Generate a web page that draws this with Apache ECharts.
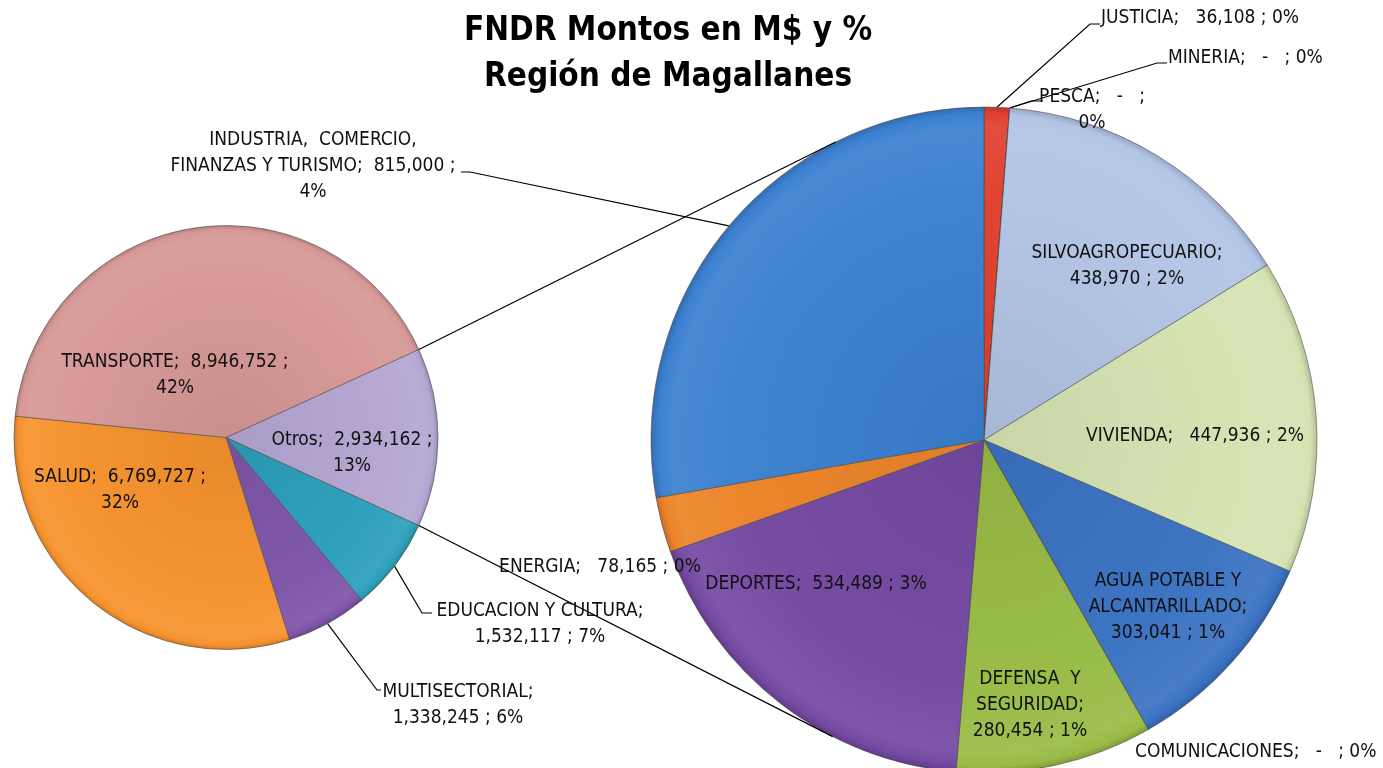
<!DOCTYPE html>
<html><head><meta charset="utf-8">
<script src="https://cdn.jsdelivr.net/npm/echarts@6/dist/echarts.min.js"></script>
<style>html,body{margin:0;padding:0;background:#fff}#c{width:1383px;height:768px}</style>
</head><body><div id="c"></div>
<script>
// ---- data (drawing order, clockwise) ----
const mainCategories = ['Otros', 'EDUCACION Y CULTURA', 'MULTISECTORIAL', 'SALUD', 'TRANSPORTE'];
const mainValues = [2934162, 1532117, 1338245, 6769727, 8946752];
const mainPercents = [13, 7, 6, 32, 42];
const otrosCategories = ['JUSTICIA', 'MINERIA', 'PESCA', 'SILVOAGROPECUARIO', 'VIVIENDA',
  'AGUA POTABLE Y ALCANTARILLADO', 'COMUNICACIONES', 'DEFENSA Y SEGURIDAD', 'DEPORTES',
  'ENERGIA', 'INDUSTRIA, COMERCIO, FINANZAS Y TURISMO'];
const otrosValues = [36108, 0, 0, 438970, 447936, 303041, 0, 280454, 534489, 78165, 815000];
const otrosPercents = [0, 0, 0, 2, 2, 1, 0, 1, 3, 0, 4];
const titleLines = ['FNDR Montos en M$ y %', 'Región de Magallanes'];

// ---- style / layout ----
const FONT = '"Liberation Sans Narrow","DejaVu Sans Condensed","Arial Narrow",sans-serif';
const L = { cx: 226, cy: 437.5, r: 212 };
const R = { cx: 984, cy: 440, r: 333 };
const colors = {
  'Otros': '#b4a6d2', 'EDUCACION Y CULTURA': '#2c9fba', 'MULTISECTORIAL': '#7d55a8',
  'SALUD': '#f6922d', 'TRANSPORTE': '#d69896',
  'JUSTICIA': '#e0402f', 'MINERIA': '#4f81bd', 'PESCA': '#c0504d', 'SILVOAGROPECUARIO': '#b2c4e4',
  'VIVIENDA': '#d5e3b2', 'AGUA POTABLE Y ALCANTARILLADO': '#3a72c2', 'COMUNICACIONES': '#4bacc6',
  'DEFENSA Y SEGURIDAD': '#98bb45', 'DEPORTES': '#7449a2', 'ENERGIA': '#ec8428',
  'INDUSTRIA, COMERCIO, FINANZAS Y TURISMO': '#3b80d0'
};
const tpl = {
  'Otros': '{n};  {v} ;\n{p}', 'TRANSPORTE': '{n};  {v} ;\n{p}', 'SALUD': '{n};  {v} ;\n{p}',
  'EDUCACION Y CULTURA': '{n};\n{v} ; {p}', 'MULTISECTORIAL': '{n};\n{v} ; {p}',
  'JUSTICIA': '{n};   {v} ; {p}', 'MINERIA': '{n};   {v} ; {p}', 'PESCA': '{n};   {v} ;\n{p}',
  'SILVOAGROPECUARIO': '{n};\n{v} ; {p}', 'VIVIENDA': '{n};   {v} ; {p}',
  'AGUA POTABLE Y ALCANTARILLADO': 'AGUA POTABLE Y\nALCANTARILLADO;\n{v} ; {p}',
  'COMUNICACIONES': '{n};   {v} ; {p}', 'DEFENSA Y SEGURIDAD': 'DEFENSA  Y\nSEGURIDAD;\n{v} ; {p}',
  'DEPORTES': '{n};  {v} ; {p}', 'ENERGIA': '{n};   {v} ; {p}',
  'INDUSTRIA, COMERCIO, FINANZAS Y TURISMO': 'INDUSTRIA,  COMERCIO,\nFINANZAS Y TURISMO;  {v} ;\n{p}'
};
const pos = {
  'TRANSPORTE': { x: 175, y: 375 }, 'SALUD': { x: 120, y: 490 }, 'Otros': { x: 352, y: 453 },
  'EDUCACION Y CULTURA': { x: 540, y: 624, lead: [[422, 613], [432, 613]] },
  'MULTISECTORIAL': { x: 458, y: 705, lead: [[377, 690], [381, 690]] },
  'JUSTICIA': { x: 1101, y: 18, align: 'left', lead: [[1090, 24], [1100, 24]] },
  'MINERIA': { x: 1168, y: 58, align: 'left', lead: [[1157, 63], [1167, 63]] },
  'PESCA': { x: 1092, y: 110, lead: [[1031, 101], [1043, 101]] },
  'SILVOAGROPECUARIO': { x: 1127, y: 266 }, 'VIVIENDA': { x: 1195, y: 436 },
  'AGUA POTABLE Y ALCANTARILLADO': { x: 1168, y: 607 },
  'COMUNICACIONES': { x: 1135, y: 752, align: 'left' },
  'DEFENSA Y SEGURIDAD': { x: 1030, y: 705 }, 'DEPORTES': { x: 816, y: 584 },
  'ENERGIA': { x: 600, y: 567 },
  'INDUSTRIA, COMERCIO, FINANZAS Y TURISMO': { x: 313, y: 166, lead: [[470, 172], [461, 172]] }
};

const grandTotal = mainValues.reduce((a, b) => a + b, 0);
function fmtVal(v) { return v === 0 ? '-  ' : v.toLocaleString('en-US'); }
function labelText(name, v, pct) {
  return tpl[name].replace('{n}', name).replace('{v}', fmtVal(v)).replace('{p}', pct + '%');
}
function shade(hex, f) {
  const n = parseInt(hex.slice(1), 16);
  let r = n >> 16, g = (n >> 8) & 255, b = n & 255;
  const t = f < 0 ? 0 : 255, p = Math.abs(f);
  r = Math.round(r + (t - r) * p); g = Math.round(g + (t - g) * p); b = Math.round(b + (t - b) * p);
  return 'rgb(' + r + ',' + g + ',' + b + ')';
}
function grad(c, P) {
  return {
    type: 'radial', x: P.cx, y: P.cy, r: P.r, global: true,
    colorStops: [
      { offset: 0, color: shade(c, -0.06) },
      { offset: 0.75, color: shade(c, 0.02) },
      { offset: 0.94, color: shade(c, 0.07) },
      { offset: 0.98, color: shade(c, 0.0) },
      { offset: 1, color: shade(c, -0.16) }
    ]
  };
}
function mkData(names, vals, pcts, P) {
  return names.map((n, i) => ({
    name: n, value: vals[i], pct: pcts[i],
    itemStyle: { color: grad(colors[n], P) },
    labelLine: { show: !!pos[n].lead }
  }));
}
function mkLayout(names) {
  return function (params) {
    const s = pos[names[params.dataIndex]];
    const out = { x: s.x, y: s.y, align: s.align || 'center', verticalAlign: 'middle' };
    if (s.lead && params.labelLinePoints) {
      out.labelLinePoints = [params.labelLinePoints[0], s.lead[0], s.lead[1]];
    }
    return out;
  };
}
const labelStyle = {
  show: true, position: 'outside', color: '#111', fontFamily: FONT, fontSize: 19,
  lineHeight: 26, align: 'center'
};

const otrosAngle = 360 * mainValues[0] / grandTotal;
const half = otrosAngle / 2 * Math.PI / 180;
function tangents(px, py, P) {
  const dx = P.cx - px, dy = P.cy - py, d = Math.hypot(dx, dy);
  const a = Math.atan2(dy, dx), b = Math.asin(P.r / d), len = Math.sqrt(d * d - P.r * P.r);
  return [[px + len * Math.cos(a - b), py + len * Math.sin(a - b)],
          [px + len * Math.cos(a + b), py + len * Math.sin(a + b)]];
}
const up = [L.cx + L.r * Math.cos(half), L.cy - L.r * Math.sin(half)];
const lo = [L.cx + L.r * Math.cos(half), L.cy + L.r * Math.sin(half)];
const upT = tangents(up[0], up[1], R)[0];
const loT = tangents(lo[0], lo[1], R)[1];

const chart = echarts.init(document.getElementById('c'), null, { renderer: 'canvas' });
chart.setOption({
  backgroundColor: '#fff',
  animation: false,
  title: {
    text: titleLines.join('\n'), left: 663, top: 3, textAlign: 'center',
    textStyle: { fontFamily: FONT, fontWeight: 'bold', fontSize: 33, lineHeight: 46, color: '#000' }
  },
  graphic: [
    { type: 'line', z: 100, shape: { x1: up[0], y1: up[1], x2: upT[0], y2: upT[1] }, style: { stroke: '#000', lineWidth: 1.2 } },
    { type: 'line', z: 100, shape: { x1: lo[0], y1: lo[1], x2: loT[0], y2: loT[1] }, style: { stroke: '#000', lineWidth: 1.2 } }
  ],
  series: [
    {
      type: 'pie', center: [L.cx, L.cy], radius: L.r, startAngle: otrosAngle / 2, clockwise: true,
      avoidLabelOverlap: false, minShowLabelAngle: -1,
      itemStyle: { borderColor: 'rgba(70,70,70,0.55)', borderWidth: 1 },
      label: Object.assign({}, labelStyle, { formatter: p => labelText(p.name, p.value, p.data.pct) }),
      labelLine: { length: 10, length2: 10, lineStyle: { color: '#000', width: 1.2 } },
      labelLayout: mkLayout(mainCategories),
      emphasis: { disabled: true },
      data: mkData(mainCategories, mainValues, mainPercents, L)
    },
    {
      type: 'pie', center: [R.cx, R.cy], radius: R.r, startAngle: 90, clockwise: true,
      avoidLabelOverlap: false, minShowLabelAngle: -1, stillShowZeroSum: true,
      itemStyle: { borderColor: 'rgba(70,70,70,0.55)', borderWidth: 1 },
      label: Object.assign({}, labelStyle, { formatter: p => labelText(p.name, p.value, p.data.pct) }),
      labelLine: { length: 10, length2: 10, lineStyle: { color: '#000', width: 1.2 } },
      labelLayout: mkLayout(otrosCategories),
      emphasis: { disabled: true },
      data: mkData(otrosCategories, otrosValues, otrosPercents, R)
    }
  ]
});
</script>
</body></html>
